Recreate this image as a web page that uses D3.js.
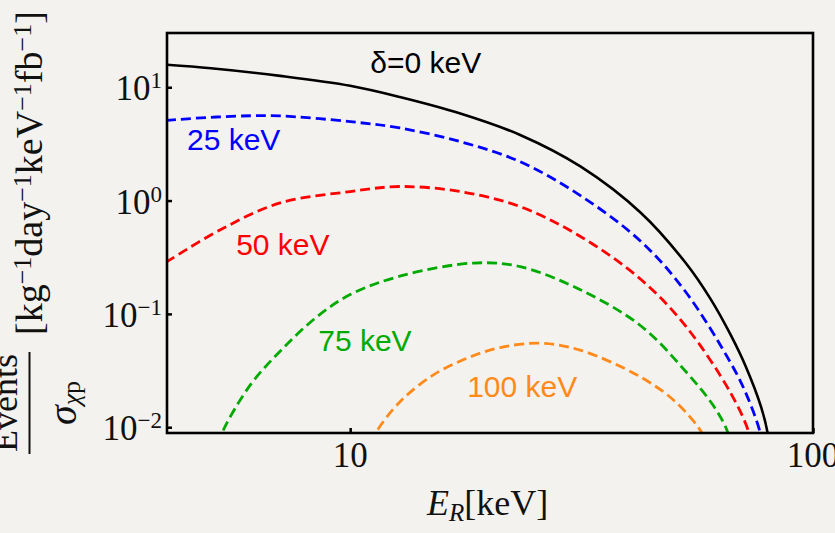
<!DOCTYPE html>
<html><head><meta charset="utf-8">
<script src="https://cdn.jsdelivr.net/npm/d3@7"></script>
<style>html,body{margin:0;padding:0;background:#f4f2ee;} svg{display:block}</style>
</head><body><svg id="c" width="835" height="533"></svg>
<script>
// ---- data ----
const xTickValues = [10, 100];
const xTickLabels = ["10", "100"];
const yTickValues = [0.01, 0.1, 1, 10];
const yTickExponents = ["\u22122", "\u22121", "0", "1"];

const seriesNames = ["\u03b4=0 keV", "25 keV", "50 keV", "75 keV", "100 keV"];
const seriesColors = ["#000000", "#0000ff", "#ff0000", "#00aa00", "#ff8a1a"];

// delta = 0 keV
const energy0 = [4.0, 5.0, 7.06, 10, 12.8, 17.3, 23.3, 31.5, 42.5, 53.1, 60.1, 66.4, 71.6, 77.2, 79.8, 80.6];
const rate0   = [15.8, 14.7, 12.6, 10.3, 8.2, 5.86, 3.79, 1.99, 0.777, 0.281, 0.135, 0.0652, 0.0342, 0.0152, 0.0089, 0.0065];
// delta = 25 keV
const energy25 = [4.0, 5.0, 6.1, 7.06, 10, 12.8, 17.3, 23.3, 31.5, 42.5, 53.1, 66.4, 71.6, 76.9, 77.6];
const rate25   = [5.1, 5.43, 5.6, 5.59, 4.97, 4.37, 3.31, 2.20, 1.10, 0.435, 0.156, 0.0369, 0.020, 0.0089, 0.0065];
// delta = 50 keV
const energy50 = [4.0, 5.23, 7.06, 10, 12.8, 17.3, 23.3, 31.5, 42.5, 53.1, 66.4, 72.7, 73.4];
const rate50   = [0.285, 0.55, 0.953, 1.20, 1.33, 1.20, 0.883, 0.48, 0.201, 0.0778, 0.020, 0.0089, 0.0065];
// delta = 75 keV
const energy75 = [5.2, 5.32, 6.08, 7.1, 8.47, 10, 12.8, 18.5, 23.3, 31.5, 42.5, 53.1, 61.1, 65.5, 66.2];
const rate75   = [0.007, 0.0094, 0.0235, 0.048, 0.094, 0.148, 0.215, 0.281, 0.261, 0.1625, 0.0782, 0.031, 0.0152, 0.0089, 0.0065];
// delta = 100 keV
const energy100 = [11.2, 11.37, 12.8, 15.1, 17.9, 21.1, 25.8, 31.4, 42.3, 50.4, 57.5, 58.2];
const rate100   = [0.0072, 0.0089, 0.0167, 0.0288, 0.0407, 0.0505, 0.0551, 0.0479, 0.0279, 0.0168, 0.0089, 0.0072];

// label anchors in data units (E, rate)
const labelEnergy = [11.05, 4.44, 5.67, 8.53, 17.9];
const labelRate   = [13.3, 2.79, 0.330, 0.0472, 0.01855];

const seriesData = [
  d3.zip(energy0, rate0),
  d3.zip(energy25, rate25),
  d3.zip(energy50, rate50),
  d3.zip(energy75, rate75),
  d3.zip(energy100, rate100)
];

// ---- layout ----
const L = 167, R = 813, T = 33, B = 433;
const svg = d3.select("#c");
svg.append("rect").attr("width", 835).attr("height", 533).attr("fill", "#f4f2ee");

const x = d3.scaleLog().domain([4.02, 100]).range([L, R]);
const y = d3.scaleLog().domain([0.00889, 30.1]).range([B, T]);

svg.append("defs").append("clipPath").attr("id", "clip")
  .append("rect").attr("x", L).attr("y", T).attr("width", R - L).attr("height", B - T);

const serif = "'Liberation Serif','Times New Roman',Times,serif";
const sans = "'Liberation Sans',Arial,Helvetica,sans-serif";

// curves
const line = d3.line().x(d => x(d[0])).y(d => y(d[1])).curve(d3.curveCatmullRom.alpha(0.5));
const plot = svg.append("g").attr("clip-path", "url(#clip)");
plot.selectAll("path").data(seriesData).join("path")
  .attr("d", line)
  .attr("fill", "none")
  .attr("stroke", (d, i) => seriesColors[i])
  .attr("stroke-width", (d, i) => i === 0 ? 2.6 : 2.8)
  .attr("stroke-dasharray", (d, i) => i === 0 ? null : "10,5");

// axes ticks (inward)
svg.append("g").attr("transform", `translate(${L},0)`)
  .call(d3.axisLeft(y).tickValues(yTickValues).tickSize(-5).tickFormat(""))
  .call(g => g.select(".domain").remove())
  .call(g => g.selectAll("line").attr("stroke", "#000").attr("stroke-width", 2.5));
svg.append("g").attr("transform", `translate(0,${B})`)
  .call(d3.axisBottom(x).tickValues(xTickValues).tickSize(-5).tickFormat(""))
  .call(g => g.select(".domain").remove())
  .call(g => g.selectAll("line").attr("stroke", "#000").attr("stroke-width", 2.5));

// frame
svg.append("rect").attr("x", L).attr("y", T).attr("width", R - L).attr("height", B - T)
  .attr("fill", "none").attr("stroke", "#000").attr("stroke-width", 2.6);

// y tick labels
const yl = svg.append("g").attr("font-family", serif).attr("fill", "#111");
yTickValues.forEach((v, i) => {
  const t = yl.append("text").attr("x", L - 5).attr("y", y(v) + 13)
    .attr("text-anchor", "end").attr("font-size", 35);
  t.append("tspan").text("10");
  t.append("tspan").attr("dy", -12).attr("font-size", 23).text(yTickExponents[i]);
});

// x tick labels
svg.append("g").attr("font-family", serif).attr("fill", "#111")
  .selectAll("text").data(xTickValues).join("text")
  .attr("x", d => x(d)).attr("y", 467)
  .attr("text-anchor", "middle").attr("font-size", 35)
  .text((d, i) => xTickLabels[i]);

// x axis title
const xt = svg.append("text").attr("x", 427).attr("y", 515)
  .attr("font-family", serif).attr("font-size", 36).attr("fill", "#111");
xt.append("tspan").attr("font-style", "italic").text("E");
xt.append("tspan").attr("font-style", "italic").attr("font-size", 25).attr("dy", 6).text("R");
xt.append("tspan").attr("dy", -6).text("[keV]");

// y axis title (rotated)
const yt = svg.append("g").attr("transform", "translate(0,454) rotate(-90)")
  .attr("font-family", serif).attr("fill", "#111");
yt.append("text").attr("x", 51).attr("y", 17).attr("text-anchor", "middle")
  .attr("font-size", 36).text("Events");
yt.append("line").attr("x1", 0).attr("x2", 102).attr("y1", 29.5).attr("y2", 29.5)
  .attr("stroke", "#111").attr("stroke-width", 2);
const sg = yt.append("text").attr("x", 51).attr("y", 76).attr("text-anchor", "middle").attr("font-size", 40);
sg.append("tspan").attr("font-style", "italic").text("\u03c3");
sg.append("tspan").attr("font-style", "italic").attr("font-size", 26).attr("dy", 4).text("\u03c7");
sg.append("tspan").attr("font-size", 26).text("p");
const br = yt.append("text").attr("x", 119).attr("y", 42).attr("font-size", 38);
br.append("tspan").text("[kg");
br.append("tspan").attr("dy", -11).attr("font-size", 26).text("\u22121");
br.append("tspan").attr("dy", 11).text("day");
br.append("tspan").attr("dy", -11).attr("font-size", 26).text("\u22121");
br.append("tspan").attr("dy", 11).text("keV");
br.append("tspan").attr("dy", -11).attr("font-size", 26).text("\u22121");
br.append("tspan").attr("dy", 11).text("fb");
br.append("tspan").attr("dy", -11).attr("font-size", 26).text("\u22121");
br.append("tspan").attr("dy", 11).text("]");

// series labels
svg.append("g").attr("font-family", sans).attr("font-size", 30)
  .selectAll("text").data(seriesNames).join("text")
  .attr("x", (d, i) => x(labelEnergy[i]))
  .attr("y", (d, i) => y(labelRate[i]))
  .attr("fill", (d, i) => seriesColors[i])
  .text(d => d);
</script></body></html>
